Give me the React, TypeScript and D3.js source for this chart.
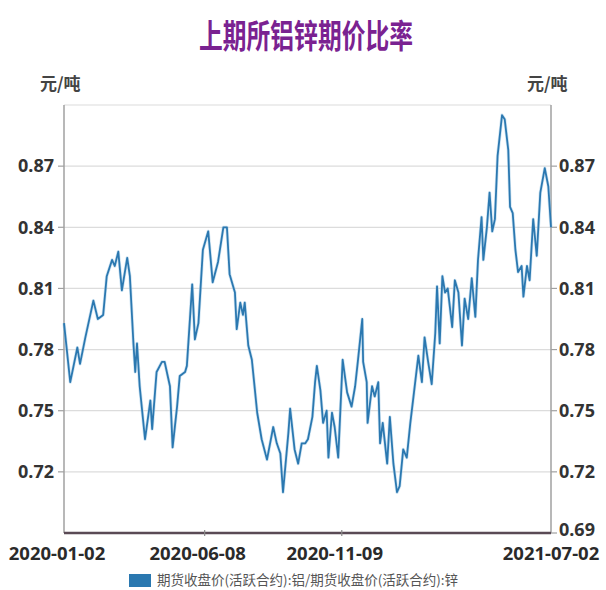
import React from "react";
import * as d3 from "d3";

const title = "上期所铝锌期价比率";
const unitLabel = "元/吨";
const seriesName = "期货收盘价(活跃合约):铝/期货收盘价(活跃合约):锌";

const dates = [
  "2020-01-02","2020-01-09","2020-01-17","2020-01-20","2020-01-26","2020-02-04","2020-02-09","2020-02-15","2020-02-19","2020-02-25",
  "2020-02-28","2020-03-03","2020-03-07","2020-03-13","2020-03-16","2020-03-20","2020-03-22","2020-03-24","2020-03-27","2020-04-02",
  "2020-04-08","2020-04-10","2020-04-15","2020-04-21","2020-04-24","2020-04-30","2020-05-03","2020-05-08","2020-05-11","2020-05-17",
  "2020-05-19","2020-05-25","2020-05-28","2020-06-01","2020-06-06","2020-06-12","2020-06-17","2020-06-23","2020-06-29","2020-07-03",
  "2020-07-06","2020-07-12","2020-07-14","2020-07-18","2020-07-21","2020-07-23","2020-07-27","2020-07-31","2020-08-06","2020-08-11",
  "2020-08-17","2020-08-24","2020-08-28","2020-09-01","2020-09-04","2020-09-10","2020-09-12","2020-09-17","2020-09-21","2020-09-25",
  "2020-09-29","2020-10-02","2020-10-07","2020-10-10","2020-10-12","2020-10-16","2020-10-19","2020-10-23","2020-10-25","2020-10-29",
  "2020-11-01","2020-11-05","2020-11-10","2020-11-15","2020-11-20","2020-11-24","2020-11-27","2020-12-02","2020-12-03","2020-12-07",
  "2020-12-08","2020-12-13","2020-12-16","2020-12-20","2020-12-22","2020-12-25","2020-12-30","2021-01-02","2021-01-06","2021-01-10",
  "2021-01-13","2021-01-17","2021-01-21","2021-01-25","2021-01-28","2021-02-03","2021-02-07","2021-02-10","2021-02-14","2021-02-18",
  "2021-02-22","2021-02-24","2021-02-27","2021-03-02","2021-03-05","2021-03-08","2021-03-13","2021-03-16","2021-03-20","2021-03-24",
  "2021-03-27","2021-03-31","2021-04-04","2021-04-08","2021-04-11","2021-04-15","2021-04-17","2021-04-21","2021-04-24","2021-04-27",
  "2021-04-30","2021-05-03","2021-05-08","2021-05-11","2021-05-15","2021-05-17","2021-05-20","2021-05-23","2021-05-26","2021-05-30",
  "2021-06-01","2021-06-05","2021-06-08","2021-06-12","2021-06-16","2021-06-20","2021-06-25","2021-06-29","2021-07-02",
];

const ratio = [
  0.793,0.764,0.781,0.773,0.786,0.804,0.795,0.797,0.816,0.824,
  0.821,0.828,0.809,0.825,0.816,0.783,0.769,0.783,0.762,0.736,
  0.755,0.741,0.769,0.774,0.774,0.762,0.732,0.752,0.767,0.769,
  0.772,0.812,0.785,0.793,0.829,0.838,0.813,0.823,0.840,0.840,
  0.817,0.808,0.790,0.803,0.797,0.803,0.782,0.775,0.749,0.736,
  0.726,0.742,0.734,0.729,0.710,0.739,0.751,0.731,0.724,0.734,
  0.734,0.736,0.747,0.764,0.772,0.760,0.744,0.750,0.727,0.749,
  0.742,0.727,0.775,0.759,0.752,0.762,0.774,0.795,0.774,0.764,
  0.744,0.762,0.757,0.764,0.734,0.744,0.724,0.747,0.724,0.710,
  0.713,0.731,0.727,0.744,0.755,0.777,0.764,0.786,0.774,0.763,
  0.788,0.811,0.783,0.816,0.808,0.810,0.791,0.814,0.808,0.782,
  0.805,0.795,0.815,0.796,0.824,0.845,0.824,0.840,0.857,0.838,
  0.844,0.875,0.895,0.893,0.878,0.850,0.847,0.829,0.818,0.821,
  0.806,0.821,0.814,0.844,0.826,0.857,0.869,0.860,0.840,
];

const xTickLabels = ["2020-01-02", "2020-06-08", "2020-11-09", "2021-07-02"];
const leftTicks = [0.72, 0.75, 0.78, 0.81, 0.84, 0.87];
const rightTicks = [0.69, 0.72, 0.75, 0.78, 0.81, 0.84, 0.87];
const gridTicks = [0.72, 0.75, 0.78, 0.81, 0.84, 0.87, 0.9];
const yDomain = [0.69, 0.9];

const W = 606;
const H = 590;
const L = 64;
const R = 551;
const T = 105;
const B = 533;

const numFont = "'Noto Sans', 'DejaVu Sans', sans-serif";
const cjkFont = "'Noto Sans CJK SC', 'Noto Sans', sans-serif";

export default function App() {
  const parse = d3.timeParse("%Y-%m-%d");
  const pts = dates.map((d, i) => ({ date: parse(d) as Date, v: ratio[i] }));
  const x = d3
    .scaleTime()
    .domain([parse(dates[0]) as Date, parse(dates[dates.length - 1]) as Date])
    .range([L, R]);
  const y = d3.scaleLinear().domain(yDomain).range([B, T]);
  const line = d3
    .line<{ date: Date; v: number }>()
    .x((d) => x(d.date))
    .y((d) => y(d.v))
    .curve(d3.curveLinear);
  const path = line(pts) || "";
  const lastIdx = xTickLabels.length - 1;

  return (
    <svg width={W} height={H} style={{ position: "absolute", left: 0, top: 0, background: "#fff" }}>
      <rect x={0} y={0} width={W} height={H} fill="#fff" />
      {/* title */}
      <text
        transform={`translate(306,48) scale(0.88,1.2)`}
        textAnchor="middle"
        fontFamily={cjkFont}
        fontWeight={700}
        fontSize={27}
        fill="#7a2291"
      >
        {title}
      </text>
      {/* unit labels */}
      <text x={40} y={90} fontFamily={cjkFont} fontWeight={700} fontSize={17} fill="#444">
        {unitLabel}
      </text>
      <text x={527} y={90} fontFamily={cjkFont} fontWeight={700} fontSize={17} fill="#444">
        {unitLabel}
      </text>

      {/* grid */}
      {gridTicks.map((t) => (
        <line key={"g" + t} x1={L} x2={R} y1={y(t)} y2={y(t)} stroke="#dcdcdc" strokeWidth={1.2} />
      ))}

      {/* left axis */}
      <line x1={L} x2={L} y1={T} y2={B} stroke="#a0a0a0" strokeWidth={1.5} />
      {leftTicks.map((t) => (
        <g key={"l" + t}>
          <line x1={L - 6} x2={L} y1={y(t)} y2={y(t)} stroke="#a0a0a0" strokeWidth={1.2} />
          <text
            x={L - 10}
            y={y(t)}
            dy="0.35em"
            textAnchor="end"
            fontFamily={numFont}
            fontWeight={700}
            fontSize={18}
            fill="#333"
          >
            {d3.format(".2f")(t)}
          </text>
        </g>
      ))}

      {/* right axis */}
      <line x1={R} x2={R} y1={T} y2={B} stroke="#a0a0a0" strokeWidth={1.5} />
      {rightTicks.map((t) => (
        <g key={"r" + t}>
          <line x1={R} x2={R + 6} y1={y(t)} y2={y(t)} stroke="#a0a0a0" strokeWidth={1.2} />
          <text
            x={R + 8}
            y={y(t)}
            dy={t === 0.69 ? "0.15em" : "0.35em"}
            textAnchor="start"
            fontFamily={numFont}
            fontWeight={700}
            fontSize={18}
            fill="#333"
          >
            {d3.format(".2f")(t)}
          </text>
        </g>
      ))}

      {/* series */}
      <path d={path} fill="none" stroke="#9cc8e6" strokeWidth={3.2} strokeOpacity={0.5} strokeLinejoin="round" />
      <path d={path} fill="none" stroke="#2b78b0" strokeWidth={1.8} strokeLinejoin="round" />

      {/* bottom axis */}
      <line x1={L} x2={R} y1={B} y2={B} stroke="#5a4a55" strokeWidth={2.5} />
      {xTickLabels.map((s, i) => {
        const xx = x(parse(s) as Date);
        return (
          <g key={s}>
            {i > 0 && i < lastIdx && (
              <line x1={xx} x2={xx} y1={B - 3} y2={B + 3} stroke="#8a8a8a" strokeWidth={1.2} />
            )}
            <text
              x={i === lastIdx ? xx : xx - 7}
              y={560}
              textAnchor="middle"
              fontFamily={numFont}
              fontWeight={700}
              fontSize={18.5}
              fill="#2a2a2a"
            >
              {s}
            </text>
          </g>
        );
      })}

      {/* legend */}
      <rect x={129} y={574} width={22} height={13} fill="#2a78b0" />
      <text x={157} y={585} fontFamily={cjkFont} fontSize={13.5} fill="#555">
        {seriesName}
      </text>
    </svg>
  );
}
